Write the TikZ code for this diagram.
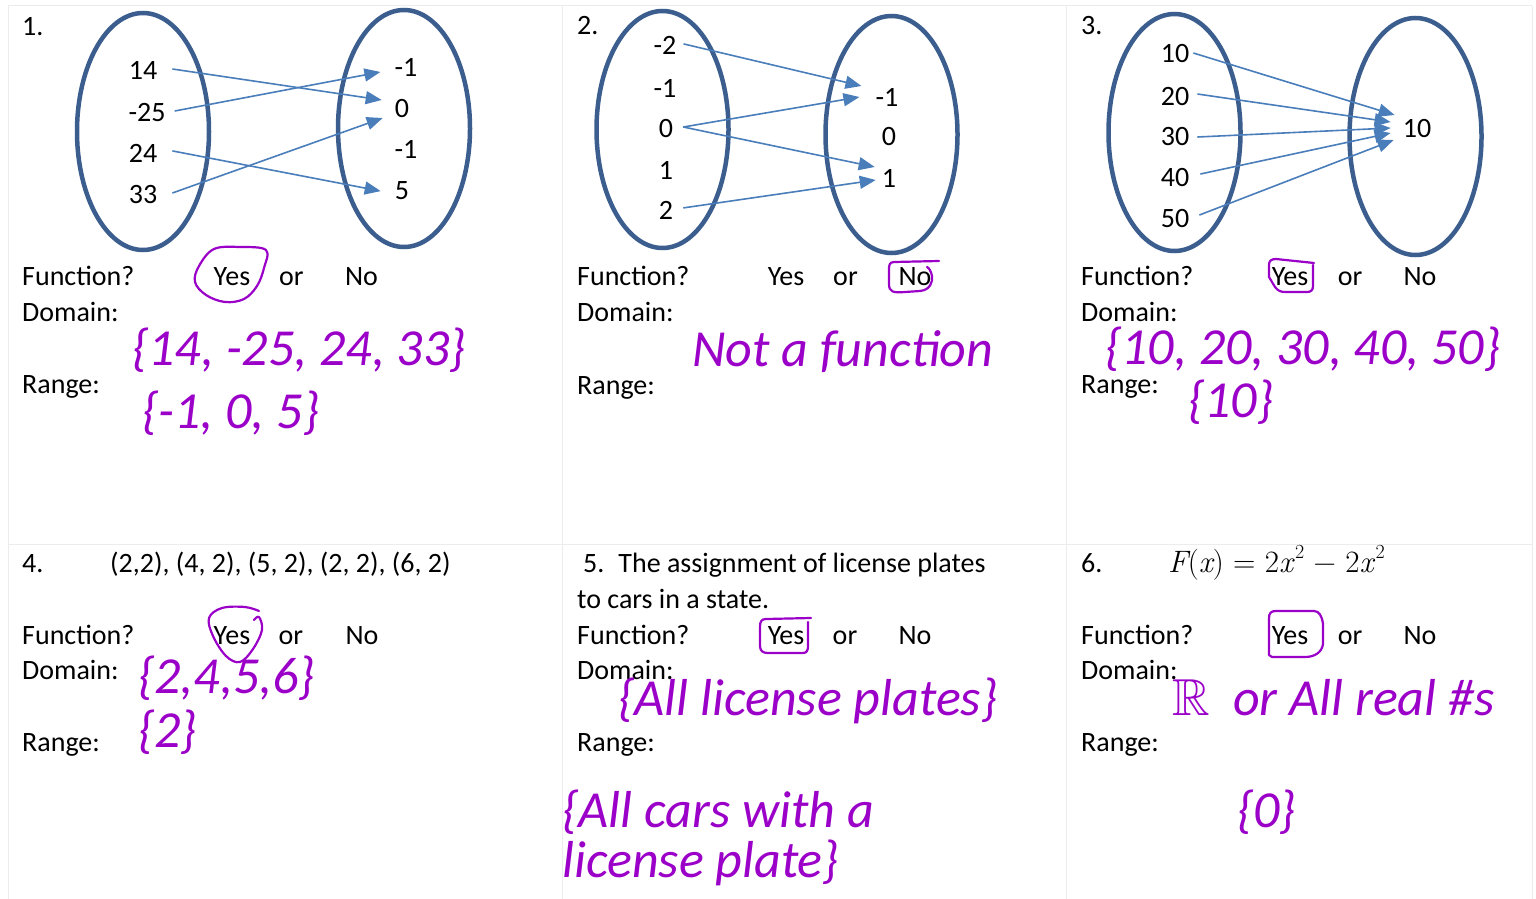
\documentclass[tikz,border=0pt]{standalone}
\usepackage{amssymb}
\usepackage{fontspec}
\setmainfont{Carlito}
\newfontfamily\lmfont{Latin Modern Roman}
\usetikzlibrary{arrows.meta,shapes.geometric}
\definecolor{ellc}{RGB}{59,94,142}
\definecolor{arrc}{RGB}{74,126,187}
\definecolor{ink}{RGB}{155,0,200}
\definecolor{gridc}{RGB}{236,236,236}
\newcommand{\sqsup}{\kern2pt\raisebox{0.42em}{\lmfont\upshape\fontsize{20}{22}\selectfont 2}}
\tikzset{
  txt/.style={font=\fontsize{28}{34}\selectfont, inner sep=0pt, anchor=base west},
  num/.style={font=\fontsize{28}{34}\selectfont, inner sep=0pt, anchor=base},
  hw/.style={font=\fontsize{52}{62}\selectfont\itshape, text=ink, inner sep=0pt, anchor=base west},
  setell/.style={ellipse, draw=ellc, line width=4.5pt, inner sep=0pt, minimum width=132pt, minimum height=237pt},
  arr/.style={draw=arrc, line width=1.6pt, -{Triangle[length=16pt,width=13pt]}},
  inkline/.style={draw=ink, line width=2.2pt, line cap=round, line join=round},
  gridline/.style={draw=gridc, line width=1pt}
}
\begin{document}
\begin{tikzpicture}[x=1pt,y=-1pt]
\useasboundingbox (0,0) rectangle (1536,899);
% grid
\draw[gridline] (8,6) -- (1532,6);
\draw[gridline] (8,544) -- (1532,544);
\draw[gridline] (8,6) -- (8,899);
\draw[gridline] (562,6) -- (562,899);
\draw[gridline] (1066,6) -- (1066,899);
\draw[gridline] (1532,6) -- (1532,899);

% ---------- Panel 1 ----------
\node[txt] (n1) at (22,36) {1.};
\node[setell] (e1l) at (143,131.5) {};
\node[setell] (e1r) at (404,128.5) {};
\node[num] (a14) at (143,80) {14};
\node[num] (a25) at (147,121) {-25};
\node[num] (a24) at (143,162) {24};
\node[num] (a33) at (143,203) {33};
\node[num] (bm1) at (406,76) {-1};
\node[num] (b0) at (402,117) {0};
\node[num] (bm1b) at (406,158) {-1};
\node[num] (b5) at (402,199) {5};
\draw[arr] ([shift={(15,-2)}]a14.east) -- ([shift={(-13,-8)}]b0.west);
\draw[arr] ([shift={(9,-1)}]a25.east) -- ([shift={(-14,5)}]bm1.west);
\draw[arr] ([shift={(15,-2)}]a24.east) -- ([shift={(-14,1)}]b5.west);
\draw[arr] ([shift={(15,-1)}]a33.east) -- ([shift={(-12,10)}]b0.west);
\node[txt] (f1) at (22,285) {Function?};
\node[num] (y1) at (232,285) {Yes};
\node[num] (o1) at (291.5,285) {or};
\node[num] (no1) at (361.5,285) {No};
\node[txt] (d1) at (22,321) {Domain:};
\node[txt] (r1) at (22,393) {Range:};
\node[hw] (dv1) at (132,365) {\{14, -25, 24, 33\}};
\node[hw] (rv1) at (142,428) {\{-1, 0, 5\}};
\draw[inkline] plot[smooth cycle, tension=0.6] coordinates {(214,249) (240,247) (266,250) (264,268) (257,286) (244,299) (225,302) (206,295) (195,282) (199,266)};

% ---------- Panel 2 ----------
\node[txt] (n2) at (577,35) {2.};
\node[setell] (e2l) at (662.5,129.5) {};
\node[setell] (e2r) at (891.5,134.5) {};
\node[num] (cm2) at (665,55) {-2};
\node[num] (cm1) at (665,97) {-1};
\node[num] (c0) at (666,137) {0};
\node[num] (c1) at (666,179) {1};
\node[num] (c2) at (666,219) {2};
\node[num] (dm1) at (887,106) {-1};
\node[num] (d0) at (889,145) {0};
\node[num] (d1n) at (889,187) {1};
\draw[arr] ([shift={(7,-2)}]cm2.east) -- ([shift={(-14,-11)}]dm1.west);
\draw[arr] ([shift={(10,-1)}]c0.east) -- ([shift={(-16,0)}]dm1.west);
\draw[arr] ([shift={(10,-1)}]c0.east) -- ([shift={(-7,-11)}]d1n.west);
\draw[arr] ([shift={(10,-2)}]c2.east) -- ([shift={(-6,2)}]d1n.west);
\node[txt] (f2) at (577,285) {Function?};
\node[num] (y2) at (786,285) {Yes};
\node[num] (o2) at (845.5,285) {or};
\node[num] (no2) at (915,285) {No};
\node[txt] (d2) at (577,321) {Domain:};
\node[txt] (r2) at (577,394) {Range:};
\node[hw] (dv2) at (692,366) {Not a function};
\draw[inkline] (939,261) -- (894,262) .. controls (889,262) and (889,266) .. (889,270) -- (889,284) .. controls (889,292) and (893,293) .. (905,292) -- (920,291) .. controls (930,290) and (933,282) .. (932,276) .. controls (931,271) and (929,268) .. (927,267);

% ---------- Panel 3 ----------
\node[txt] (n3) at (1081,35) {3.};
\node[setell] (e3l) at (1174.5,132.5) {};
\node[setell] (e3r) at (1415.5,136.5) {};
\node[num] (g10) at (1175,63) {10};
\node[num] (g20) at (1175,105) {20};
\node[num] (g30) at (1175,145) {30};
\node[num] (g40) at (1175,186) {40};
\node[num] (g50) at (1175,227) {50};
\node[num] (h10) at (1417,137) {10};
\draw[arr] ([shift={(4,-1)}]g10.east) -- ([shift={(-8,-13)}]h10.west);
\draw[arr] ([shift={(8,-2)}]g20.east) -- ([shift={(-12,-6)}]h10.west);
\draw[arr] ([shift={(8,1)}]g30.east) -- ([shift={(-12,0)}]h10.west);
\draw[arr] ([shift={(11,-3)}]g40.east) -- ([shift={(-12,5)}]h10.west);
\draw[arr] ([shift={(10,-3)}]g50.east) -- ([shift={(-9,12)}]h10.west);
\node[txt] (f3) at (1081,285) {Function?};
\node[num] (y3) at (1290,285) {Yes};
\node[num] (o3) at (1350,285) {or};
\node[num] (no3) at (1420,285) {No};
\node[txt] (d3) at (1081,321) {Domain:};
\node[txt] (r3) at (1081,393) {Range:};
\node[hw] (dv3) at (1105,364) {\{10, 20, 30, 40, 50\}};
\node[hw] (rv3) at (1188,417) {\{10\}};
\draw[inkline] (1314,263) -- (1276,259) .. controls (1271,259) and (1269,261) .. (1269,265) -- (1269,277) -- (1275,287) .. controls (1278,291) and (1281,292) .. (1285,292) -- (1307,292) .. controls (1311,292) and (1313,290) .. (1313,286) -- (1313,265);

% ---------- Panel 4 ----------
\node[txt] (n4) at (22,572) {4.};
\node[txt] (p4) at (110,572) {(2,2), (4, 2), (5, 2), (2, 2), (6, 2)};
\node[txt] (f4) at (22,644) {Function?};
\node[num] (y4) at (232,644) {Yes};
\node[num] (o4) at (291,644) {or};
\node[num] (no4) at (362,644) {No};
\node[txt] (d4) at (22,679) {Domain:};
\node[txt] (r4) at (22,751) {Range:};
\node[hw] (dv4) at (138,693) {\{2,4,5,6\}};
\node[hw] (rv4) at (138,747) {\{2\}};
\draw[inkline] plot[smooth, tension=0.6] coordinates {(254,620) (259,617) (262,630) (253,649) (240,662) (226,656) (213,636) (209,618) (222,608) (245,607) (259,611)};

% ---------- Panel 5 ----------
\node[txt] (t5) at (583,572) {5.\enspace The assignment of license plates};
\node[txt] (t5b) at (577,608) {to cars in a state.};
\node[txt] (f5) at (577,644) {Function?};
\node[num] (y5) at (786,644) {Yes};
\node[num] (o5) at (845,644) {or};
\node[num] (no5) at (915,644) {No};
\node[txt] (d5) at (577,679) {Domain:};
\node[txt] (r5) at (577,751) {Range:};
\node[hw] (dv5) at (618,715) {\{All license plates\}};
\node[hw] (rv5a) at (562,827) {\{All cars with a};
\node[hw] (rv5b) at (562,877) {license plate\}};
\draw[inkline] (811,618) -- (766,619) .. controls (761,619) and (760,622) .. (760,627) -- (760,646) .. controls (760,651) and (763,653) .. (768,653) -- (803,653) .. controls (807,653) and (808,650) .. (808,646) -- (808,622);

% ---------- Panel 6 ----------
\node[txt] (n6) at (1081,572) {6.};
\node[txt, font=\fontsize{31}{36}\selectfont] (m6) at (1168,572) {\lmfont\itshape F\upshape(\itshape x\upshape) = 2\itshape x\upshape\sqsup{} − 2\itshape x\upshape\sqsup};
\node[txt] (f6) at (1081,644) {Function?};
\node[num] (y6) at (1290,644) {Yes};
\node[num] (o6) at (1350,644) {or};
\node[num] (no6) at (1420,644) {No};
\node[txt] (d6) at (1081,679) {Domain:};
\node[txt] (r6) at (1081,751) {Range:};
\node[hw] (dv6) at (1172,715) {$\mathbb{R}$\ \ or All real \#s};
\node[hw] (rv6) at (1237,827) {\{0\}};
\draw[inkline] (1272,657) -- (1269,655) -- (1269,618) .. controls (1269,613) and (1271,611) .. (1276,611) -- (1314,611) .. controls (1319,611) and (1322,616) .. (1323,624) -- (1323,644) .. controls (1322,652) and (1315,657) .. (1305,657) -- (1272,657);
\end{tikzpicture}
\end{document}
